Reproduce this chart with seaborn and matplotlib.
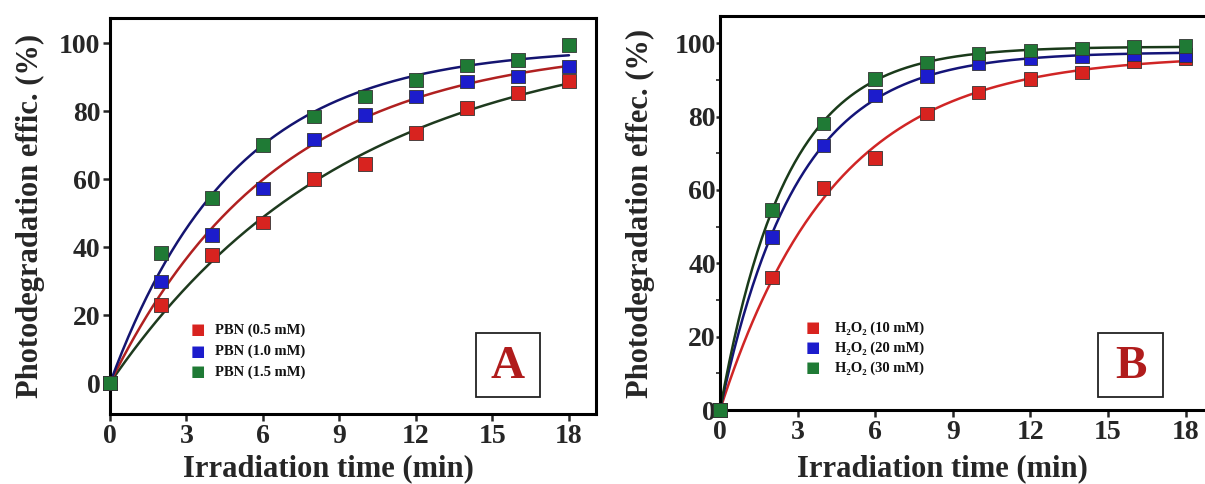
import numpy as np
import pandas as pd
import matplotlib
matplotlib.use("Agg")
import matplotlib.pyplot as plt
import seaborn as sns

# ---------------- data ----------------
time_min = [0, 2, 4, 6, 8, 10, 12, 14, 16, 18]

pbn_labels = ["PBN (0.5 mM)", "PBN (1.0 mM)", "PBN (1.5 mM)"]
pbn_05 = [0, 23.0, 37.7, 47.3, 60.1, 64.4, 73.5, 80.9, 85.3, 88.9]
pbn_10 = [0, 29.9, 43.6, 57.2, 71.6, 78.9, 84.3, 88.7, 90.2, 93.1]
pbn_15 = [0, 38.2, 54.4, 70.1, 78.4, 84.3, 89.2, 93.4, 95.1, 99.5]

h2o2_labels = ["H₂O₂ (10 mM)", "H₂O₂ (20 mM)", "H₂O₂ (30 mM)"]
h2o2_10 = [0, 36.1, 60.5, 68.7, 80.8, 86.6, 90.2, 92.0, 95.2, 95.8]
h2o2_20 = [0, 47.2, 72.1, 85.7, 91.1, 94.5, 96.0, 96.5, 97.0, 96.8]
h2o2_30 = [0, 54.5, 78.1, 90.2, 94.7, 97.2, 98.0, 98.6, 98.9, 99.2]

x_ticks = [0, 3, 6, 9, 12, 15, 18]
y_ticks = [0, 20, 40, 60, 80, 100]

marker_colors = ["#d8231f", "#1c1ccc", "#1f7a35"]
curve_colors_A = ["#1e3a1e", "#b02020", "#141470"]
curve_colors_B = ["#d02525", "#141478", "#1a3a1a"]

# ---------------- helpers ----------------
def fit_first_order(t, y):
    """Least-squares fit of y = A(1-exp(-k t)) via grid search on k."""
    t = np.asarray(t, float)
    y = np.asarray(y, float)
    best = None
    for k in np.linspace(0.01, 1.5, 3000):
        f = 1 - np.exp(-k * t)
        A = np.sum(y * f) / np.sum(f * f)
        sse = np.sum((y - A * f) ** 2)
        if best is None or sse < best[0]:
            best = (sse, A, k)
    return best[1], best[2]


def build_frames(labels, series):
    pts, curves = [], []
    tt = np.linspace(0, max(time_min), 300)
    for lab, vals in zip(labels, series):
        pts.append(pd.DataFrame({"t": time_min, "y": vals, "series": lab}))
        A, k = fit_first_order(time_min, vals)
        curves.append(pd.DataFrame({"t": tt, "y": A * (1 - np.exp(-k * tt)), "series": lab}))
    return pd.concat(pts, ignore_index=True), pd.concat(curves, ignore_index=True)


sns.set_style("ticks")
plt.rcParams["font.family"] = ["Liberation Serif", "DejaVu Serif"]
plt.rcParams["font.weight"] = "bold"

fig = plt.figure(figsize=(12.05, 4.84), dpi=100)
axA = fig.add_axes([110 / 1205, 1 - 414 / 484, 486 / 1205, 396 / 484])
axB = fig.add_axes([720 / 1205, 1 - 410 / 484, 485 / 1205, 394 / 484])

panels = [
    (axA, pbn_labels, [pbn_05, pbn_10, pbn_15], curve_colors_A, (-9.1, 107.4), (0, 19.06),
     "Photodegradation effic. (%)", "A", 198, 215, [330, 351, 372], (476, 333, 540, 397), 414, 0.45),
    (axB, h2o2_labels, [h2o2_10, h2o2_20, h2o2_30], curve_colors_B, (0, 107.4), (0, 18.75),
     "Photodegradation effec. (%)", "B", 813, 835, [328, 348, 368], (1098, 333, 1163, 397), 410, 0.458),
]

for (ax, labels, series, ccols, ylim, xlim, ylabel, letter, sqx, txx, rows, box, ybot, xlx) in panels:
    pts, curves = build_frames(labels, series)
    sns.lineplot(data=curves, x="t", y="y", hue="series", palette=dict(zip(labels, ccols)),
                 linewidth=1.8, legend=False, ax=ax, zorder=2)
    sns.scatterplot(data=pts, x="t", y="y", hue="series", palette=dict(zip(labels, marker_colors)),
                    marker="s", s=95, edgecolor="#333333", linewidth=0.6, legend=False, ax=ax,
                    zorder=3, clip_on=False)
    ax.set_xlim(*xlim)
    ax.set_ylim(*ylim)
    ax.set_xticks(x_ticks)
    ax.set_yticks(y_ticks)
    ax.set_xlabel("Irradiation time (min)", fontsize=22, fontweight="bold")
    ax.set_ylabel(ylabel, fontsize=22, fontweight="bold")
    h = ax.get_position().height * 484
    ax.xaxis.label.set_va("center")
    ax.xaxis.set_label_coords(xlx, -(469 - ybot) / h)
    ax.yaxis.label.set_va("center")
    ax.yaxis.set_label_coords(-80 / 486, 0.5)
    for sp in ax.spines.values():
        sp.set_linewidth(2.2)
        sp.set_color("black")
    ax.tick_params(axis="both", direction="out", length=5, width=1.8, labelsize=20, pad=2)
    for lab in ax.get_xticklabels() + ax.get_yticklabels():
        lab.set_fontweight("bold")

    # legend (manual, in figure pixel coordinates)
    for lab, col, ry in zip(labels, marker_colors, rows):
        fig.text(sqx / 1205, 1 - ry / 484, "■", color=col, fontsize=11, ha="center", va="center",
                 family=["DejaVu Sans"])
        fig.text(txx / 1205, 1 - ry / 484, lab, fontsize=10.5, fontweight="bold", ha="left",
                 va="center", color="#111111")

    # letter box
    x0, y0, x1, y1 = box
    rect = plt.Rectangle((x0 / 1205, 1 - y1 / 484), (x1 - x0) / 1205, (y1 - y0) / 484,
                         transform=fig.transFigure, fill=False, edgecolor="#222222", linewidth=1.3)
    fig.patches.append(rect)
    fig.text((x0 + x1) / 2 / 1205, 1 - (y0 + y1) / 2 / 484 - 0.005, letter, fontsize=34,
             fontweight="bold", color="#b01c1c", ha="center", va="center")

axB.spines["right"].set_visible(False)
axB.set_yticks([10, 30, 50, 70, 90], minor=True)
axB.tick_params(axis="y", which="minor", direction="out", length=3, width=1.2)
axB.tick_params(axis="y", which="major", length=3, pad=0)

fig.savefig("out.png", dpi=100, facecolor="white")
